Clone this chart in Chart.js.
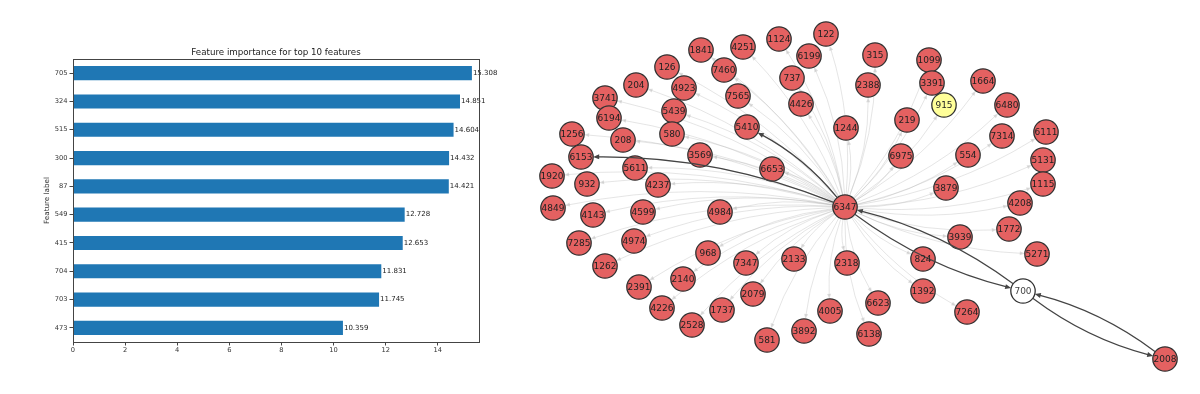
<!DOCTYPE html>
<html>
<head>
<meta charset="utf-8">
<script src="https://cdn.jsdelivr.net/npm/chart.js@4.4.1/dist/chart.umd.min.js"></script>
<style>
  html, body { margin: 0; padding: 0; background: #fff; }
  #wrap { position: relative; width: 1200px; height: 394px; overflow: hidden; }
  #barBox { position: absolute; left: 0; top: 0; width: 520px; height: 394px; }
  #graphBox { position: absolute; left: 520px; top: 0; width: 680px; height: 394px; }
</style>
</head>
<body>
<div id="wrap">
  <div id="barBox"><canvas id="barChart"></canvas></div>
  <div id="graphBox"><canvas id="graphChart"></canvas></div>
</div>
<script>
// feature importance (left)
const featureLabels = ['705', '324', '515', '300', '87', '549', '415', '704', '703', '473'];
const importance = [15.308, 14.851, 14.604, 14.432, 14.421, 12.728, 12.653, 11.831, 11.745, 10.359];
const importanceMax = 15.58;
const barTitle = 'Feature importance for top 10 features';

// graph layout (right) - node ids and their layout positions
const nodeIds = ['1841', '4251', '1124', '122', '6199', '126', '7460', '737', '204', '4923',
  '3741', '7565', '4426', '5439', '6194', '1244', '5410', '1256', '580', '208',
  '6153', '3569', '6653', '5611', '1920', '932', '4237', '2388', '315', '1099',
  '3391', '1664', '915', '6480', '219', '7314', '6111', '6975', '554', '5131',
  '3879', '1115', '4208', '4849', '4143', '4599', '4984', '6347', '7285', '4974',
  '1262', '968', '7347', '2133', '2318', '2391', '2140', '2079', '4226', '1737',
  '2528', '4005', '3892', '581', '6623', '6138', '1772', '3939', '5271', '824',
  '700', '1392', '7264', '2008'];
const nodeX = [-144, -102, -66, -19, -36, -178, -121, -53, -209, -161,
  -240, -107, -44, -171, -236, 1, -98, -273, -173, -222,
  -264, -145, -73, -210, -293, -258, -187, 23, 30, 84,
  87, 138, 99, 162, 62, 157, 201, 56, 123, 198,
  101, 198, 175, -292, -252, -202, -125, 0, -266, -211,
  -240, -137, -99, -51, 2, -206, -162, -92, -183, -123,
  -153, -15, -41, -78, 33, 24, 164, 115, 192, 78,
  178, 78, 122, 320];
const nodeY = [157, 160, 168, 173, 151, 140, 137, 129, 122, 119,
  109, 111, 103, 96, 89, 79, 80, 73, 73, 67,
  50, 52, 38, 39, 31, 23, 22, 122, 152, 147,
  124, 126, 102, 102, 87, 71, 75, 51, 52, 47,
  19, 23, 4, -1, -8, -5, -5, 0, -36, -34,
  -59, -46, -56, -52, -56, -80, -72, -87, -101, -103,
  -118, -104, -124, -133, -96, -127, -22, -30, -47, -52,
  -84, -84, -105, -152];

const hubNode = '6347';
const queryNode = '915';
const targetNode = '700';
// strong (dark) directed edges
const strongEdges = [['6347', '6153'], ['6347', '5410'], ['6347', '700'], ['700', '6347'], ['700', '2008'], ['2008', '700']];
// weak edges: hub to every other node except the strongly linked pair
const weakEdges = nodeIds.filter(n => n !== hubNode && n !== '700' && n !== '2008').map(n => [hubNode, n]);

const FONT = "'DejaVu Sans', sans-serif";

// ---------- left: horizontal bar chart ----------
const barValueLabels = {
    id: 'barValueLabels',
    afterDatasetsDraw(chart) {
        const ctx = chart.ctx;
        const meta = chart.getDatasetMeta(0);
        ctx.save();
        ctx.font = '7px ' + FONT;
        ctx.fillStyle = '#222';
        ctx.textBaseline = 'middle';
        ctx.textAlign = 'left';
        meta.data.forEach((bar, i) => {
            ctx.fillText(importance[i].toFixed(3), bar.x + 1, bar.y);
        });
        ctx.restore();
    }
};
// axes box + title centred over the plot area (matplotlib style)
const frameBox = {
    id: 'frameBox',
    afterDraw(chart) {
        const a = chart.chartArea;
        const ctx = chart.ctx;
        ctx.save();
        ctx.strokeStyle = '#444';
        ctx.lineWidth = 1;
        ctx.strokeRect(Math.round(a.left) + 0.5, Math.round(a.top) + 0.5,
            Math.round(a.right - a.left), Math.round(a.bottom - a.top));
        ctx.font = '8.7px ' + FONT;
        ctx.fillStyle = '#222';
        ctx.textAlign = 'center';
        ctx.textBaseline = 'alphabetic';
        ctx.fillText(barTitle, (a.left + a.right) / 2, a.top - 4);
        ctx.restore();
    }
};

new Chart(document.getElementById('barChart'), {
    type: 'bar',
    data: {
        labels: featureLabels,
        datasets: [{
            data: importance,
            backgroundColor: '#1f77b4',
            borderWidth: 0,
            barPercentage: 0.5,
            categoryPercentage: 1.0,
        }]
    },
    options: {
        indexAxis: 'y',
        responsive: true,
        maintainAspectRatio: false,
        animation: false,
        layout: { padding: { left: 0, right: 41, top: 59, bottom: 0 } },
        scales: {
            x: {
                min: 0,
                max: importanceMax,
                border: { display: false },
                grid: { drawOnChartArea: false, drawTicks: true, tickLength: 3.5, tickColor: '#444' },
                ticks: {
                    stepSize: 2,
                    includeBounds: false,
                    maxRotation: 0,
                    padding: 1,
                    color: '#333',
                    font: { family: FONT, size: 6.7 },
                },
                afterFit: s => { s.height = 52; },
            },
            y: {
                border: { display: false },
                grid: { offset: false, drawOnChartArea: false, drawTicks: true, tickLength: 3.5, tickColor: '#444' },
                ticks: {
                    padding: 2,
                    color: '#333',
                    font: { family: FONT, size: 6.7 },
                },
                title: {
                    display: true,
                    text: 'Feature label',
                    color: '#333',
                    font: { family: FONT, size: 7.2 },
                    padding: { top: 42.5, bottom: 0 },
                },
                afterFit: s => { s.width = 73; },
            }
        },
        plugins: {
            legend: { display: false },
            tooltip: { enabled: false },
            title: { display: false },
        }
    },
    plugins: [barValueLabels, frameBox]
});

// ---------- right: network graph ----------
const NODE_R = 12.2;
const nodeIndex = {};
nodeIds.forEach((n, i) => { nodeIndex[n] = i; });
const nodeColors = nodeIds.map(n => n === queryNode ? '#ffff99' : (n === targetNode ? '#ffffff' : '#e46161'));

function px(chart, id) {
    const i = nodeIndex[id];
    return { x: chart.scales.x.getPixelForValue(nodeX[i]), y: chart.scales.y.getPixelForValue(nodeY[i]) };
}

function drawArc(ctx, chart, src, dst, rad, headLen, headW) {
    const a = px(chart, src), b = px(chart, dst);
    const dx = b.x - a.x, dy = b.y - a.y;
    const c = { x: (a.x + b.x) / 2 - rad * dy, y: (a.y + b.y) / 2 + rad * dx };
    let ux = c.x - a.x, uy = c.y - a.y;
    let l = Math.hypot(ux, uy);
    const s = { x: a.x + ux / l * NODE_R, y: a.y + uy / l * NODE_R };
    ux = b.x - c.x; uy = b.y - c.y;
    l = Math.hypot(ux, uy);
    ux /= l; uy /= l;
    const t = { x: b.x - ux * NODE_R, y: b.y - uy * NODE_R };
    ctx.beginPath();
    ctx.moveTo(s.x, s.y);
    ctx.quadraticCurveTo(c.x, c.y, t.x - ux * headLen * 0.6, t.y - uy * headLen * 0.6);
    ctx.stroke();
    ctx.beginPath();
    ctx.moveTo(t.x, t.y);
    ctx.lineTo(t.x - ux * headLen - uy * headW, t.y - uy * headLen + ux * headW);
    ctx.lineTo(t.x - ux * headLen + uy * headW, t.y - uy * headLen - ux * headW);
    ctx.closePath();
    ctx.fill();
}

const graphEdges = {
    id: 'graphEdges',
    beforeDatasetsDraw(chart) {
        const ctx = chart.ctx;
        ctx.save();
        ctx.strokeStyle = 'rgba(175,175,175,0.32)';
        ctx.fillStyle = 'rgba(175,175,175,0.42)';
        ctx.lineWidth = 1;
        weakEdges.forEach(([u, v]) => drawArc(ctx, chart, u, v, 0.1, 5, 2));
        ctx.restore();
    },
    afterDatasetsDraw(chart) {
        const ctx = chart.ctx;
        ctx.save();
        ctx.strokeStyle = '#444';
        ctx.fillStyle = '#444';
        ctx.lineWidth = 1.2;
        strongEdges.forEach(([u, v]) => drawArc(ctx, chart, u, v, 0.1, 6, 2.5));
        ctx.font = '9px ' + FONT;
        ctx.textAlign = 'center';
        ctx.textBaseline = 'middle';
        nodeIds.forEach(n => {
            const p = px(chart, n);
            ctx.fillStyle = n === targetNode ? '#444' : '#222';
            ctx.fillText(n, p.x, p.y + 0.5);
        });
        ctx.restore();
    }
};

new Chart(document.getElementById('graphChart'), {
    type: 'scatter',
    data: {
        datasets: [{
            data: nodeIds.map((n, i) => ({ x: nodeX[i], y: nodeY[i] })),
            pointRadius: NODE_R,
            pointHoverRadius: NODE_R,
            pointBackgroundColor: nodeColors,
            pointBorderColor: '#333',
            pointBorderWidth: 1.3,
            clip: false,
        }]
    },
    options: {
        responsive: true,
        maintainAspectRatio: false,
        animation: false,
        layout: { autoPadding: false, padding: 0 },
        scales: {
            x: { type: 'linear', display: false, min: -325, max: 355 },
            y: { type: 'linear', display: false, min: -187, max: 207 },
        },
        plugins: {
            legend: { display: false },
            tooltip: { enabled: false },
        }
    },
    plugins: [graphEdges]
});
</script>
</body>
</html>
